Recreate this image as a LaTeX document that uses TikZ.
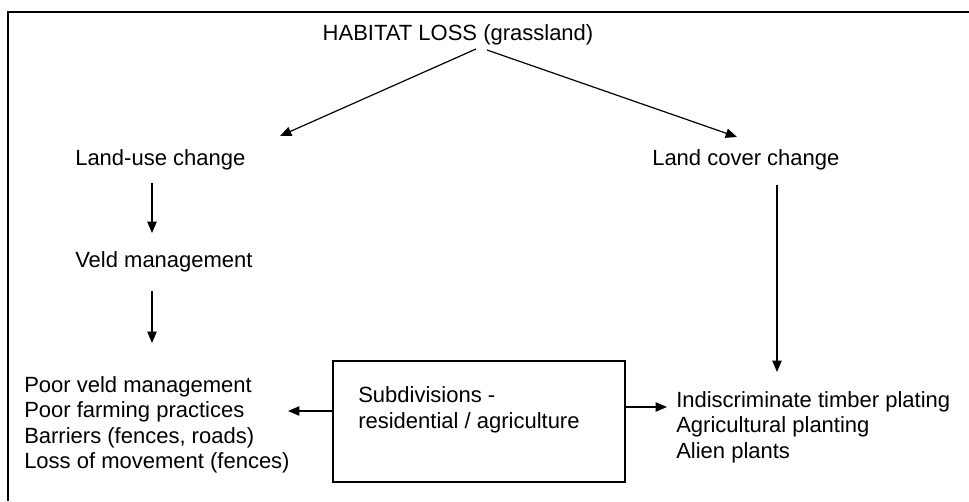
\documentclass[tikz,border=0pt]{standalone}
\usepackage{fontspec}
\setmainfont{Liberation Sans}
\usetikzlibrary{arrows.meta}
\begin{document}
\begin{tikzpicture}[x=0.75pt,y=-0.75pt,
  lbl/.style={inner sep=0pt,font=\fontsize{16.5}{19.1}\selectfont,align=left},
  arr/.style={line width=0.9pt,-{Triangle[length=8.5pt,width=7pt]}},
  frame/.style={line width=1.6pt}]
\useasboundingbox (0,0) rectangle (969,501);
\draw[frame] (8,501) -- (8,12) -- (969,12);
\node[lbl] (hab) at (458,35) {HABITAT LOSS (grassland)};
\node[lbl,anchor=west] (luc) at (75,160) {Land-use change};
\node[lbl,anchor=west] (lcc) at (652,160) {Land cover change};
\node[lbl,anchor=west] (veld) at (75,262) {Veld management};
\node[lbl,anchor=west] (left) at (24,425) {Poor veld management\\Poor farming practices\\Barriers (fences, roads)\\Loss of movement (fences)};
\node[lbl,anchor=west] (right) at (676,427) {Indiscriminate timber plating\\Agricultural planting\\Alien plants};
\node[draw,line width=0.9pt,minimum width=292*0.75pt,minimum height=121*0.75pt,inner sep=0pt] (box) at (479,421.5) {};
\node[lbl,anchor=west] (boxt) at (358,410) {Subdivisions -\\residential / agriculture};
\coordinate (h1) at (476,49);
\coordinate (h2) at (487,50);
\coordinate (t1) at (280,136);
\coordinate (t2) at (737,137);
\draw[arr] (h1) -- (t1);
\draw[arr] (h2) -- (t2);
\draw[arr] (152,183) -- (152,233);
\draw[arr] (152,291) -- (152,343);
\draw[arr] (777,185) -- (777,372);
\draw[arr] (box.west |- 0,411) -- (288,411);
\draw[arr] (box.east |- 0,407) -- (667,407);
\end{tikzpicture}
\end{document}
